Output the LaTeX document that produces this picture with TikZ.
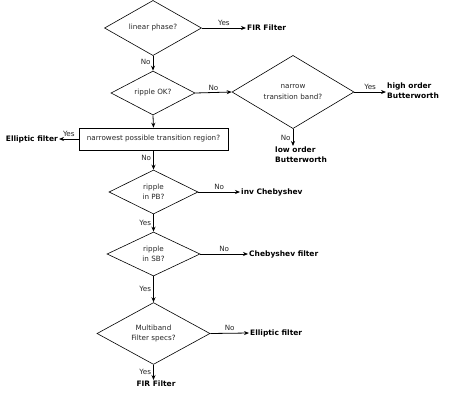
\documentclass[tikz,border=0pt]{standalone}
\usepackage{fontspec}
\setmainfont{DejaVu Sans}
\usetikzlibrary{shapes.geometric,arrows.meta}

\tikzset{
  decision/.style={diamond, draw, semithick, inner sep=0pt, align=center,
    text=black!85, font=\fontsize{7.2}{10.5}\selectfont},
  question/.style={rectangle, draw, semithick, inner sep=0pt, align=center,
    text=black!85, font=\fontsize{7.2}{10.5}\selectfont},
  result/.style={font=\bfseries\fontsize{7.5}{10}\selectfont, align=left, inner sep=1pt},
  flow/.style={-{Stealth[length=5pt,width=4pt]}, thick},
  lbl/.style={font=\fontsize{7.2}{9}\selectfont, text=black!85, inner sep=2pt}
}

\begin{document}
\begin{tikzpicture}[x=1pt,y=-1pt]
  \useasboundingbox (0,0) rectangle (459,400);
  % questions
  \node[decision, minimum width=97pt, minimum height=45pt] (lin) at (153,28) {linear phase?};
  \node[decision, minimum width=84pt, minimum height=42pt] (rip) at (153,93) {ripple OK?};
  \node[decision, minimum width=122pt, minimum height=66pt] (narrow) at (293,92) {narrow\\transition band?};
  \node[question, minimum width=149pt, minimum height=22pt] (region) at (153.5,139) {narrowest possible transition region?};
  \node[decision, minimum width=89pt, minimum height=44pt] (pb) at (153.5,192) {ripple\\in PB?};
  \node[decision, minimum width=93pt, minimum height=44pt] (sb) at (153.5,254) {ripple\\in SB?};
  \node[decision, minimum width=113pt, minimum height=55pt] (multi) at (153.5,333.5) {Multiband\\Filter specs?};
  % answers
  \node[result, anchor=west] (fir1) at (246,28) {FIR Filter};
  \node[result, anchor=west] (hob) at (386,91) {high order\\Butterworth};
  \node[result, anchor=north west] (lob) at (274,146) {low order\\Butterworth};
  \node[result, anchor=east] (ell1) at (59,139) {Elliptic filter};
  \node[result, anchor=west] (invc) at (240,192) {inv Chebyshev};
  \node[result, anchor=west] (cheb) at (248,254) {Chebyshev filter};
  \node[result, anchor=west] (ell2) at (249,333) {Elliptic filter};
  \node[result, anchor=north] (fir2) at (156,380) {FIR Filter};
  % arrows
  \draw[flow] (lin.east) -- node[lbl, above] {Yes} (fir1.west);
  \draw[flow] (lin.south) -- node[lbl, left, pos=0.4] {No} (rip.north);
  \draw[flow] (rip.east) -- node[lbl, above] {No} (narrow.west);
  \draw[flow] (narrow.east) -- node[lbl, above] {Yes} (hob.west |- narrow.east);
  \draw[flow] (narrow.south) -- node[lbl, left] {No} (narrow.south |- lob.north);
  \draw[flow] (rip.south) -- (region.north);
  \draw[flow] (region.west) -- node[lbl, above] {Yes} (ell1.east);
  \draw[flow] (region.south) -- node[lbl, left, pos=0.4] {No} (pb.north);
  \draw[flow] (pb.east) -- node[lbl, above] {No} (invc.west);
  \draw[flow] (pb.south) -- node[lbl, left] {Yes} (sb.north);
  \draw[flow] (sb.east) -- node[lbl, above] {No} (cheb.west);
  \draw[flow] (sb.south) -- node[lbl, left] {Yes} (multi.north);
  \draw[flow] (multi.east) -- node[lbl, above] {No} (ell2.west);
  \draw[flow] (multi.south) -- node[lbl, left] {Yes} (multi.south |- fir2.north);
\end{tikzpicture}
\end{document}
